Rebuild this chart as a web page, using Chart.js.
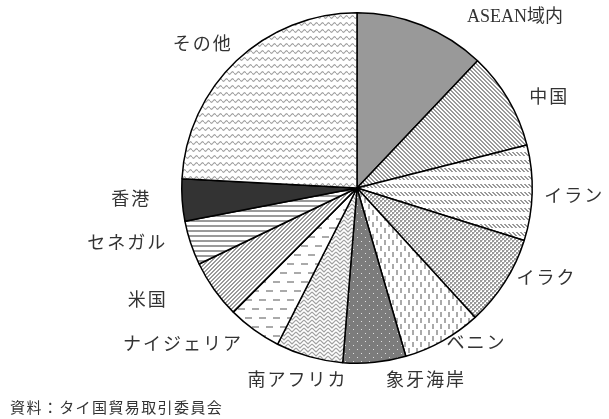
<!DOCTYPE html>
<html>
<head>
<meta charset="utf-8">
<script src="https://cdn.jsdelivr.net/npm/chart.js@4.4.1/dist/chart.umd.min.js"></script>
<style>
  html, body { margin: 0; padding: 0; background: #fff; }
  #wrap { position: relative; width: 609px; height: 419px; }
  #source { position: absolute; left: 10px; top: 396px; font: 15px "Noto Sans CJK JP", sans-serif; letter-spacing: 1.4px; color: #333; }
</style>
</head>
<body>
<div id="wrap">
  <canvas id="share" width="609" height="419"></canvas>
  <div id="source">資料：タイ国貿易取引委員会</div>
</div>
<script>
// share by destination (%), clockwise from 12 o'clock
const regions = ['ASEAN域内', '中国', 'イラン', 'イラク', 'ベニン', '象牙海岸', '南アフリカ', 'ナイジェリア', '米国', 'セネガル', '香港', 'その他'];
const shares = [12.1, 9.0, 8.8, 8.4, 7.3, 5.8, 6.2, 5.0, 5.4, 4.1, 3.9, 24.2];

// little tile helpers -> canvas patterns
function tile(w, h, draw) {
    const c = document.createElement('canvas');
    c.width = w; c.height = h;
    const g = c.getContext('2d');
    g.fillStyle = '#fff';
    g.fillRect(0, 0, w, h);
    draw(g);
    return document.getElementById('share').getContext('2d').createPattern(c, 'repeat');
}
const GREY = '#9a9a9a';

const fills = [
    '#999999', // ASEAN
    tile(4, 4, g => { g.fillStyle = GREY; for (let i = 0; i < 4; i++) { g.fillRect(i, i, 1, 1); g.fillRect((i + 1) % 4, i, 1, 1); } }),
    tile(4, 8, g => { g.fillStyle = GREY; for (let i = 0; i < 4; i++) { g.fillRect(i, i, 1, 1); g.fillRect((i + 1) % 4, i, 1, 1); } }),
    tile(4, 4, g => { g.fillStyle = '#999'; g.fillRect(0, 0, 2, 2); g.fillRect(2, 2, 2, 2); g.fillStyle = '#ccc'; g.fillRect(2, 0, 1, 1); g.fillRect(0, 2, 1, 1); }),
    tile(8, 12, g => { g.fillStyle = '#aaa'; g.fillRect(0, 0, 2, 5); g.fillRect(4, 6, 2, 5); }),
    tile(8, 8, g => { g.fillStyle = '#7c7c7c'; g.fillRect(0, 0, 8, 8); g.fillStyle = '#e0e0e0'; g.fillRect(1, 1, 1, 1); g.fillRect(5, 5, 1, 1); }),
    tile(8, 8, g => {
        g.strokeStyle = '#a0a0a0'; g.lineWidth = 1.2;
        g.beginPath();
        for (let y = -4; y < 12; y += 4) {
            g.moveTo(0, y); g.lineTo(4, y + 4); g.lineTo(8, y);
        }
        g.stroke();
    }),
    tile(14, 18, g => { g.fillStyle = '#aaa'; g.fillRect(0, 2, 7, 2); g.fillRect(7, 11, 7, 2); }),
    tile(4, 4, g => { g.fillStyle = GREY; for (let i = 0; i < 4; i++) { g.fillRect(3 - i, i, 1, 1); g.fillRect((4 - i) % 4, i, 1, 1); } }),
    tile(1, 5, g => { g.fillStyle = '#9a9a9a'; g.fillRect(0, 0, 1, 2); }),
    '#333333', // 香港
    tile(6, 7, g => {
        g.strokeStyle = '#a0a0a0'; g.lineWidth = 1.1;
        g.beginPath();
        for (let x = 0; x <= 6; x += 0.5) {
            const y = 3 + 1.3 * Math.sin(x / 6 * Math.PI * 2);
            x === 0 ? g.moveTo(x, y) : g.lineTo(x, y);
        }
        g.stroke();
    })
];

// label placement: [align, dx, dy] from a point just outside each slice's middle
const labelNudge = [
    ['left', 40, 5], ['left', 9, 6], ['left', -2, 4], ['left', 0, -10],
    ['left', -3, -9], ['left', 10, 5], ['right', 40, 11], ['right', -5, 4],
    ['right', -37, 4], ['right', -12, -3], ['right', -19, -1], ['right', 4, -5]
];

const outsideLabels = {
    id: 'outsideLabels',
    afterDatasetsDraw(chart) {
        const ctx = chart.ctx;
        const arcs = chart.getDatasetMeta(0).data;
        ctx.save();
        ctx.fillStyle = '#333';
        ctx.textBaseline = 'middle';
        ctx.font = '18px "Liberation Serif", "Noto Sans CJK JP", serif';
        arcs.forEach((arc, i) => {
            const text = chart.data.labels[i];
            const mid = (arc.startAngle + arc.endAngle) / 2;
            const r = arc.outerRadius + 14;
            const [align, dx, dy] = labelNudge[i];
            // latin names stay tight, kana/kanji get a little air
            const gap = /[A-Z]/.test(text) ? 0 : 2;
            ctx.letterSpacing = gap + 'px';
            ctx.textAlign = align;
            const shift = align === 'right' ? gap : 0;
            ctx.fillText(text, arc.x + Math.cos(mid) * r + dx + shift, arc.y + Math.sin(mid) * r + dy);
        });
        ctx.restore();
    }
};

new Chart(document.getElementById('share'), {
    type: 'pie',
    data: {
        labels: regions,
        datasets: [{
            data: shares,
            backgroundColor: fills,
            borderColor: '#000',
            borderWidth: 1.5,
            hoverOffset: 0
        }]
    },
    options: {
        responsive: false,
        animation: false,
        layout: { padding: { left: 181, top: 12, right: 76, bottom: 55 } },
        plugins: { legend: { display: false }, tooltip: { enabled: false } }
    },
    plugins: [outsideLabels]
});
</script>
</body>
</html>
